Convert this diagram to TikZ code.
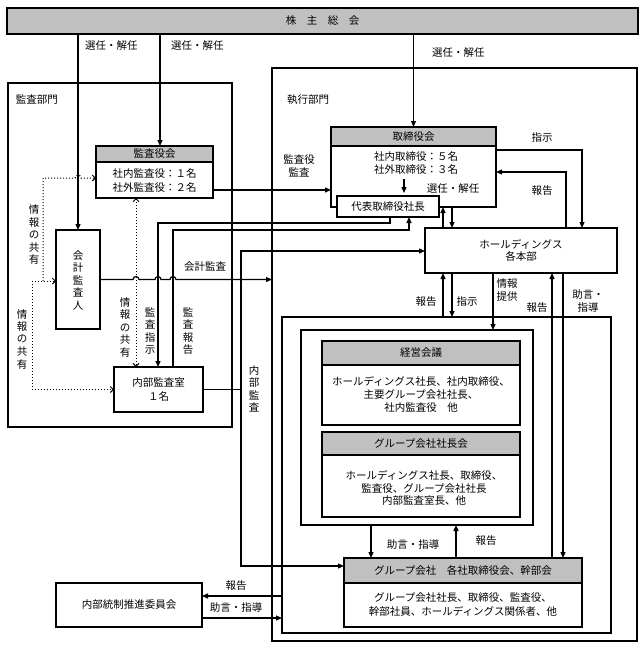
\documentclass[tikz,border=0pt]{standalone}
\usepackage{fontspec}
\setmainfont{Noto Sans CJK JP}
\usetikzlibrary{arrows.meta,calc}
\definecolor{hgray}{RGB}{192,192,192}
\begin{document}
\begin{tikzpicture}[x=1pt,y=-1pt,
  line width=1.2pt,
  every node/.style={font=\fontsize{10.5}{12.5}\selectfont, inner sep=0pt, outer sep=0pt},
  box/.style={draw, line width=1.2pt, anchor=north west},
  hdr/.style={draw, fill=hgray, line width=1.2pt, anchor=north west},
  arr/.style={-{Triangle[length=6pt,width=5pt]}},
  dotarr/.style={dotted, line width=1pt, -{Straight Barb[length=3pt,width=6pt]}},
  dotarr2/.style={dotted, line width=1pt, {Straight Barb[length=3pt,width=6pt]}-{Straight Barb[length=3pt,width=6pt]}},
  lbl/.style={align=center},
  vl/.style={align=center, font=\fontsize{10.5}{12.5}\selectfont},
]
\useasboundingbox (0,0) rectangle (644,648);
\fill[white] (0,0) rectangle (644,648);

% main frames
\node[hdr, minimum width=631, minimum height=26] (kabu) at (7,8) {株　主　総　会};
\node[box, minimum width=224, minimum height=344] (kansa) at (8,83) {};
\node[box, minimum width=365, minimum height=573] (shikko) at (272,68) {};
\node[anchor=west] (lkansa) at (16,100) {監査部門};
\node[anchor=west] (lshikko) at (287,100) {執行部門};

% 監査役会
\node[box, minimum width=117, minimum height=52] (kyk) at (96,146) {};
\node[hdr, minimum width=117, minimum height=16] (kykh) at (96,146) {監査役会};
\node[lbl, font=\fontsize{10.5}{14}\selectfont] (kykb) at (154.5,181) {社内監査役：１名\\社外監査役：２名};

% 会計監査人
\node[box, minimum width=44, minimum height=99] (kaikei) at (56,230) {};
\node[vl] (kaikeit) at (78,280) {会\\計\\監\\査\\人};

% 内部監査室
\node[box, minimum width=89, minimum height=45, align=center, font=\fontsize{10.5}{14}\selectfont] (naibu) at (114,367) {内部監査室\\１名};

% 取締役会
\node[box, minimum width=165, minimum height=80] (tori) at (331,127) {};
\node[hdr, minimum width=165, minimum height=19] (torih) at (331,127) {取締役会};
\node[lbl, font=\fontsize{10.5}{13}\selectfont] (torib) at (416,163.5) {社内取締役：５名\\社外取締役：３名};
\node[box, fill=white, minimum width=102, minimum height=21] (daihyo) at (337,196) {代表取締役社長};
\node (lsen4) at (453,189) {選任・解任};

% ホールディングス
\node[box, minimum width=192, minimum height=45, align=center, font=\fontsize{10.5}{12.5}\selectfont] (hd) at (425,228) {ホールディングス\\各本部};

% group frames
\node[box, minimum width=329, minimum height=316] (group) at (282,317) {};
\node[box, minimum width=232, minimum height=195] (inner) at (301,330) {};

% 経営会議
\node[box, minimum width=198, minimum height=84] (keiei) at (322,341) {};
\node[hdr, minimum width=198, minimum height=24] (keieih) at (322,341) {経営会議};
\node[lbl, font=\fontsize{10.5}{13}\selectfont] (keieib) at (421,394) {ホールディングス社長、社内取締役、\\主要グループ会社社長、\\社内監査役　他};

% グループ会社社長会
\node[box, minimum width=198, minimum height=85] (shacho) at (322,432) {};
\node[hdr, minimum width=198, minimum height=23] (shachoh) at (322,432) {グループ会社社長会};
\node[lbl, font=\fontsize{10.5}{12.5}\selectfont] (shachob) at (424,488) {ホールディングス社長、取締役、\\監査役、グループ会社社長\\内部監査室長、他};

% グループ会社
\node[box, minimum width=238, minimum height=69] (gk) at (344,558) {};
\node[hdr, minimum width=238, minimum height=25] (gkh) at (344,558) {グループ会社　各社取締役会、幹部会};
\node[lbl, font=\fontsize{10.5}{14}\selectfont] (gkb) at (463,605) {グループ会社社長、取締役、監査役、\\幹部社員、ホールディングス関係者、他};

% 内部統制推進委員会
\node[box, minimum width=146, minimum height=44] (tousei) at (56,583) {};
\node (touseit) at (129,605) {内部統制推進委員会};

% helper coordinates
\coordinate (x160) at (160,0);
\coordinate (x158) at (158,0);
\coordinate (x173) at (173,0);
\coordinate (x136) at (136,0);
\coordinate (x390) at (390,0);
\coordinate (x409) at (409,0);
\coordinate (x404) at (404,0);
\coordinate (x443) at (443,0);
\coordinate (x452) at (452,0);
\coordinate (x493) at (493,0);
\coordinate (x552) at (552,0);
\coordinate (x563) at (563,0);
\coordinate (x566) at (566,0);
\coordinate (x582) at (582,0);
\coordinate (x371) at (371,0);
\coordinate (x456) at (456,0);
\coordinate (y190) at (0,190);
\coordinate (y150) at (0,150);
\coordinate (y172) at (0,172);
\coordinate (y596) at (0,596);
\coordinate (y618) at (0,618);
\coordinate (ka) at (223,223);
\coordinate (kb) at (223,230);
\coordinate (nm) at (241,389.5);
\coordinate (nt) at (241,251);
\coordinate (nb) at (241,566);
\coordinate (dj) at (43,281);
\coordinate (dk) at (32,281);

% 株主総会 connectors
\draw[arr] (kabu.south -| kaikei.north) -- (kaikei.north);
\draw[arr] (kabu.south -| x160) -- (kyk.north -| x160);
\draw[arr] (kabu.south -| tori.north) -- (tori.north);
\node[anchor=west] (lsen1) at (85,46) {選任・解任};
\node[anchor=west] (lsen2) at (171,46) {選任・解任};
\node[anchor=west] (lsen3) at (432,53) {選任・解任};

% 監査役会 -> 取締役会
\draw[arr] (kyk.east |- y190) -- (tori.west |- y190);
\node[lbl] (lkk) at (299,166) {監査役\\監査};

% 監査指示 / 監査報告
\draw[arr] (daihyo.south -| x390) -- (x390 |- ka) -- (x158 |- ka) -- (naibu.north -| x158);
\draw[arr] (naibu.north -| x173) -- (x173 |- kb) -- (x409 |- kb) -- (daihyo.south -| x409);
\node[vl] (lsj) at (150,331) {監\\査\\指\\示};
\node[vl] (lsh) at (188,331) {監\\査\\報\\告};

% 会計監査 with hops
\draw[arr] (kaikei.east) -- (133,279.5) arc[start angle=180,end angle=0,radius=3pt]
  -- (155,279.5) arc[start angle=180,end angle=0,radius=3pt]
  -- (170,279.5) arc[start angle=180,end angle=0,radius=3pt]
  -- (shikko.west |- kaikei.east);
\node (lkaikei) at (205,267) {会計監査};

% 内部監査
\draw (naibu.east) -- (nm);
\draw[arr] (nm) -- (nt) -- (hd.west |- nt);
\draw[arr] (nm) -- (nb) -- (gk.west |- nb);
\node[vl] (lnk) at (254,389) {内\\部\\監\\査};

% dotted info sharing
\draw[dotarr] (dj) -- (43,178) -- (75,178) arc[start angle=180,end angle=0,radius=3pt] -- (kyk.west |- 0,178);
\draw[dotarr] (dk) -- (kaikei.west |- dk);
\draw[dotarr] (dk) -- (32,389.5) -- (naibu.west);
\draw[dotarr2] (kyk.south -| x136) -- (naibu.north -| x136);
\node[vl] (ljk1) at (34,235) {情\\報\\の\\共\\有};
\node[vl] (ljk2) at (22,339) {情\\報\\の\\共\\有};
\node[vl] (ljk3) at (125,327) {情\\報\\の\\共\\有};

% 取締役会 <-> HD
\draw[arr] (tori.east |- y150) -- (x582 |- y150) -- (hd.north -| x582);
\draw[arr] (hd.north -| x566) -- (x566 |- y172) -- (tori.east |- y172);
\node (lshiji1) at (542,138) {指示};
\node (lhoko1) at (542,191) {報告};
\draw[arr] (tori.south -| x452) -- (hd.north -| x452);
\draw[arr] (hd.north -| x443) -- (tori.south -| x443);
\draw[arr] (x404 |- 0,179) -- (x404 |- 0,193);

% HD <-> group
\draw[arr] (group.north -| x443) -- (hd.south -| x443);
\draw[arr] (hd.south -| x452) -- (group.north -| x452);
\draw[arr] (hd.south -| x493) -- (inner.north -| x493);
\draw[arr] (gk.north -| x552) -- (hd.south -| x552);
\draw[arr] (hd.south -| x563) -- (gk.north -| x563);
\node (lhoko2) at (426,302) {報告};
\node (lshiji2) at (467,302) {指示};
\node[lbl] (ljoho) at (507,290) {情報\\提供};
\node (lhoko3) at (537,308) {報告};
\node[lbl] (ljogen1) at (588,301) {助言・\\指導};

% inner <-> グループ会社
\draw[arr] (inner.south -| x371) -- (gk.north -| x371);
\draw[arr] (gk.north -| x456) -- (inner.south -| x456);
\node (ljogen2) at (413,545) {助言・指導};
\node (lhoko4) at (486,541) {報告};

% 内部統制推進委員会
\draw[arr] (group.west |- y596) -- (tousei.east |- y596);
\draw[arr] (tousei.east |- y618) -- (group.west |- y618);
\node (lhoko5) at (236,586) {報告};
\node (ljogen3) at (236,608) {助言・指導};
\end{tikzpicture}
\end{document}
